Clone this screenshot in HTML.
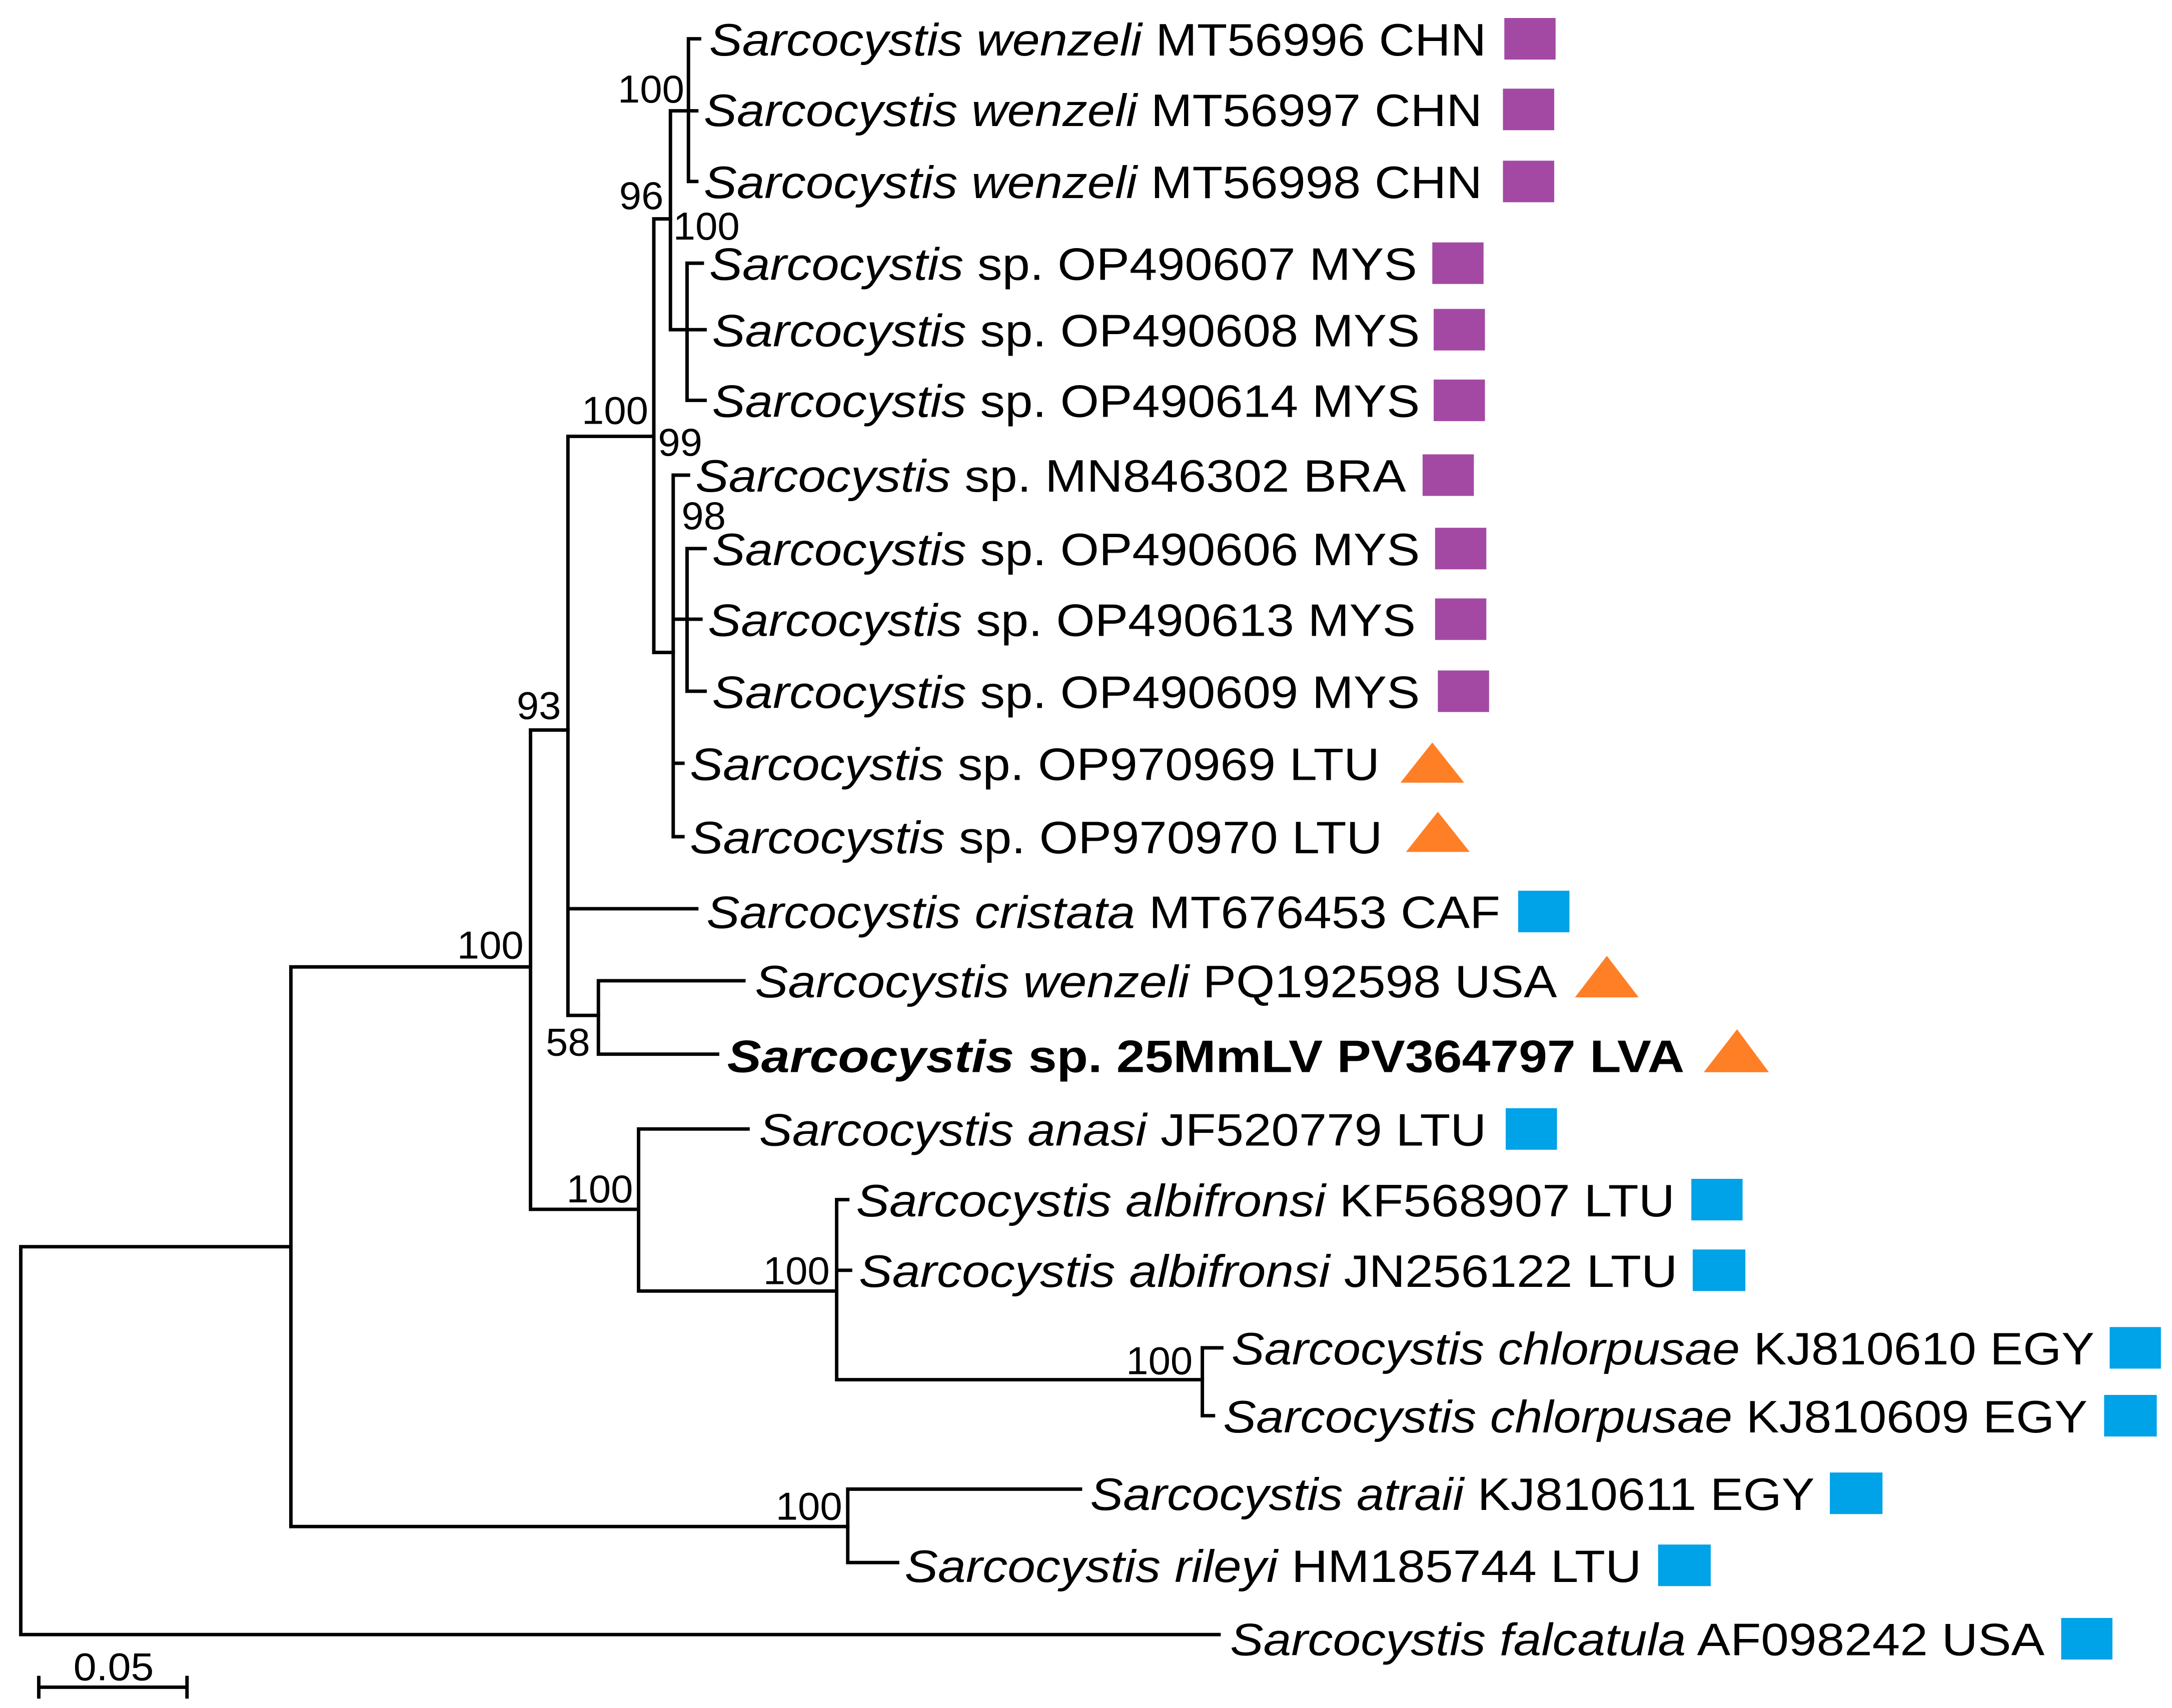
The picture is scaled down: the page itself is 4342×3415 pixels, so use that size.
<!DOCTYPE html>
<html><head><meta charset="utf-8"><style>html,body{margin:0;padding:0;background:#fff}svg{display:block}</style></head>
<body>
<svg xmlns="http://www.w3.org/2000/svg" width="4342" height="3415" viewBox="0 0 1568 1233" preserveAspectRatio="none">
<rect width="1568" height="1233" fill="#fff"/>
<g stroke="#000" stroke-width="2.5" fill="none" stroke-linecap="square">
<path d="M15 900V1180M15 900H210M15 1180H880"/>
<path d="M210 698V1102M210 698H383M210 1102H612"/>
<path d="M612 1075V1128M612 1075H780M612 1128H648"/>
<path d="M383 527V873M383 527H410M383 873H461"/>
<path d="M410 315V733M410 315H472M410 656H503M410 733H432"/>
<path d="M432 708V761M432 708H537M432 761H518"/>
<path d="M472 158V471M472 158H484M472 471H486"/>
<path d="M484 80V238M484 80H497M484 238H496"/>
<path d="M497 28V131M497 28H505M497 80H503M497 131H503"/>
<path d="M496 190V289M496 190H507M496 238H509M496 289H509"/>
<path d="M486 343V604M486 343H497M486 447H496M486 551H493M486 604H493"/>
<path d="M496 396V499M496 396H509M496 447H506M496 499H509"/>
<path d="M461 815V932M461 815H540M461 932H604"/>
<path d="M604 866V996M604 866H612M604 917H614M604 996H868"/>
<path d="M868 973V1022M868 973H882M868 1022H876"/>
<path d="M28 1218H135M28 1211V1225M135 1211V1225"/>
</g>
<g font-family="'Liberation Sans', Arial, sans-serif" font-size="28" fill="#000">
<text x="446" y="74" textLength="48" lengthAdjust="spacingAndGlyphs">100</text>
<text x="447" y="151" textLength="32" lengthAdjust="spacingAndGlyphs">96</text>
<text x="486" y="173" textLength="48" lengthAdjust="spacingAndGlyphs">100</text>
<text x="420" y="306" textLength="48" lengthAdjust="spacingAndGlyphs">100</text>
<text x="475" y="329" textLength="32" lengthAdjust="spacingAndGlyphs">99</text>
<text x="492" y="382" textLength="32" lengthAdjust="spacingAndGlyphs">98</text>
<text x="373" y="519" textLength="32" lengthAdjust="spacingAndGlyphs">93</text>
<text x="330" y="692" textLength="48" lengthAdjust="spacingAndGlyphs">100</text>
<text x="394" y="762" textLength="32" lengthAdjust="spacingAndGlyphs">58</text>
<text x="409" y="868" textLength="48" lengthAdjust="spacingAndGlyphs">100</text>
<text x="551" y="927" textLength="48" lengthAdjust="spacingAndGlyphs">100</text>
<text x="813" y="992" textLength="48" lengthAdjust="spacingAndGlyphs">100</text>
<text x="560" y="1097" textLength="48" lengthAdjust="spacingAndGlyphs">100</text>
<text x="53" y="1213" textLength="58" lengthAdjust="spacingAndGlyphs">0.05</text>
</g>
<g font-family="'Liberation Sans', Arial, sans-serif" font-size="33" fill="#000">
<text x="512" y="40" textLength="561" lengthAdjust="spacingAndGlyphs"><tspan font-style="italic">Sarcocystis wenzeli</tspan> MT56996 CHN</text>
<text x="508" y="91" textLength="562" lengthAdjust="spacingAndGlyphs"><tspan font-style="italic">Sarcocystis wenzeli</tspan> MT56997 CHN</text>
<text x="508" y="143" textLength="562" lengthAdjust="spacingAndGlyphs"><tspan font-style="italic">Sarcocystis wenzeli</tspan> MT56998 CHN</text>
<text x="512" y="202" textLength="511" lengthAdjust="spacingAndGlyphs"><tspan font-style="italic">Sarcocystis</tspan> sp. OP490607 MYS</text>
<text x="514" y="250" textLength="511" lengthAdjust="spacingAndGlyphs"><tspan font-style="italic">Sarcocystis</tspan> sp. OP490608 MYS</text>
<text x="514" y="301" textLength="511" lengthAdjust="spacingAndGlyphs"><tspan font-style="italic">Sarcocystis</tspan> sp. OP490614 MYS</text>
<text x="502" y="355" textLength="513" lengthAdjust="spacingAndGlyphs"><tspan font-style="italic">Sarcocystis</tspan> sp. MN846302 BRA</text>
<text x="514" y="408" textLength="511" lengthAdjust="spacingAndGlyphs"><tspan font-style="italic">Sarcocystis</tspan> sp. OP490606 MYS</text>
<text x="511" y="459" textLength="511" lengthAdjust="spacingAndGlyphs"><tspan font-style="italic">Sarcocystis</tspan> sp. OP490613 MYS</text>
<text x="514" y="511" textLength="511" lengthAdjust="spacingAndGlyphs"><tspan font-style="italic">Sarcocystis</tspan> sp. OP490609 MYS</text>
<text x="498" y="563" textLength="498" lengthAdjust="spacingAndGlyphs"><tspan font-style="italic">Sarcocystis</tspan> sp. OP970969 LTU</text>
<text x="498" y="616" textLength="500" lengthAdjust="spacingAndGlyphs"><tspan font-style="italic">Sarcocystis</tspan> sp. OP970970 LTU</text>
<text x="510" y="670" textLength="573" lengthAdjust="spacingAndGlyphs"><tspan font-style="italic">Sarcocystis cristata</tspan> MT676453 CAF</text>
<text x="545" y="720" textLength="579" lengthAdjust="spacingAndGlyphs"><tspan font-style="italic">Sarcocystis wenzeli</tspan> PQ192598 USA</text>
<text x="525" y="774" font-weight="bold" textLength="691" lengthAdjust="spacingAndGlyphs"><tspan font-style="italic">Sarcocystis</tspan> sp. 25MmLV PV364797 LVA</text>
<text x="548" y="827" textLength="525" lengthAdjust="spacingAndGlyphs"><tspan font-style="italic">Sarcocystis anasi</tspan> JF520779 LTU</text>
<text x="618" y="878" textLength="591" lengthAdjust="spacingAndGlyphs"><tspan font-style="italic">Sarcocystis albifronsi</tspan> KF568907 LTU</text>
<text x="620" y="929" textLength="591" lengthAdjust="spacingAndGlyphs"><tspan font-style="italic">Sarcocystis albifronsi</tspan> JN256122 LTU</text>
<text x="889" y="985" textLength="623" lengthAdjust="spacingAndGlyphs"><tspan font-style="italic">Sarcocystis chlorpusae</tspan> KJ810610 EGY</text>
<text x="883" y="1034" textLength="624" lengthAdjust="spacingAndGlyphs"><tspan font-style="italic">Sarcocystis chlorpusae</tspan> KJ810609 EGY</text>
<text x="787" y="1090" textLength="523" lengthAdjust="spacingAndGlyphs"><tspan font-style="italic">Sarcocystis atraii</tspan> KJ810611 EGY</text>
<text x="653" y="1142" textLength="532" lengthAdjust="spacingAndGlyphs"><tspan font-style="italic">Sarcocystis rileyi</tspan> HM185744 LTU</text>
<text x="888" y="1195" textLength="588" lengthAdjust="spacingAndGlyphs"><tspan font-style="italic">Sarcocystis falcatula</tspan> AF098242 USA</text>
</g>
<g fill="#a349a4">
<rect x="1086" y="13" width="37" height="30"/>
<rect x="1085" y="64" width="37" height="30"/>
<rect x="1085" y="116" width="37" height="30"/>
<rect x="1034" y="175" width="37" height="30"/>
<rect x="1035" y="223" width="37" height="30"/>
<rect x="1035" y="274" width="37" height="30"/>
<rect x="1027" y="328" width="37" height="30"/>
<rect x="1036" y="381" width="37" height="30"/>
<rect x="1036" y="432" width="37" height="30"/>
<rect x="1038" y="484" width="37" height="30"/>
</g>
<g fill="#ff7f27">
<polygon points="1011,565 1057,565 1034,536"/>
<polygon points="1015,615 1061,615 1038,586"/>
<polygon points="1137,720 1183,720 1160,690"/>
<polygon points="1230,774 1277,774 1254,743"/>
</g>
<g fill="#00a2e8">
<rect x="1096" y="643" width="37" height="30"/>
<rect x="1087" y="800" width="37" height="30"/>
<rect x="1221" y="851" width="37" height="30"/>
<rect x="1222" y="902" width="38" height="30"/>
<rect x="1523" y="958" width="37" height="30"/>
<rect x="1519" y="1007" width="38" height="30"/>
<rect x="1321" y="1063" width="38" height="30"/>
<rect x="1197" y="1115" width="38" height="30"/>
<rect x="1488" y="1168" width="37" height="30"/>
</g>
</svg>
</body></html>
